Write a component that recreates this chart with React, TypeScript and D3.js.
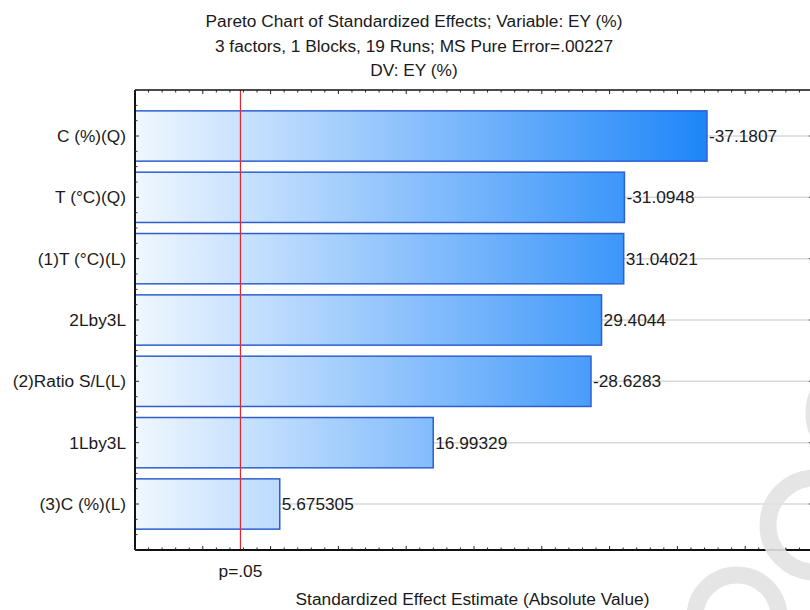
import React from "react";
import * as d3 from "d3";

// Pareto chart of standardized effects
const factors = [
  "C (%)(Q)",
  "T (°C)(Q)",
  "(1)T (°C)(L)",
  "2Lby3L",
  "(2)Ratio S/L(L)",
  "1Lby3L",
  "(3)C (%)(L)",
];
const effects = [-37.1807, -31.0948, 31.04021, 29.4044, -28.6283, 16.99329, 5.675305];
const effectLabels = ["-37.1807", "-31.0948", "31.04021", "29.4044", "-28.6283", "16.99329", "5.675305"];
const titleLines = [
  "Pareto Chart of Standardized Effects; Variable: EY (%)",
  "3 factors, 1 Blocks, 19 Runs; MS Pure Error=.00227",
  "DV: EY (%)",
];
const pCritical = 2.776;
const pLabel = "p=.05";
const xAxisTitle = "Standardized Effect Estimate (Absolute Value)";
const xDomain = [-5, 45];

const W = 810;
const H = 610;
const left = 135;
const right = 813;
const top = 90;
const bottom = 550;
const font = "'Liberation Sans', Arial, sans-serif";
const fs = 17.3;

export default function App() {
  const x = d3.scaleLinear().domain(xDomain).range([left, right]);
  const y = d3
    .scaleBand<string>()
    .domain(factors)
    .range([top, bottom])
    .paddingInner(0.18)
    .paddingOuter(0.34);
  const step = y.step();
  const maxAbs = d3.max(effects, (d) => Math.abs(d)) as number;

  const xMinor = d3.range(xDomain[0], xDomain[1] + 0.001, 1);
  const yTicks = d3.range(0, 31).map((k) => ({ pos: top + (k * step) / 4, major: k % 4 === 3 }));

  return (
    <svg
      width={W}
      height={H}
      style={{ position: "absolute", left: 0, top: 0, background: "#fff" }}
      fontFamily={font}
    >
      <defs>
        <linearGradient
          id="barFill"
          gradientUnits="userSpaceOnUse"
          x1={x(xDomain[0])}
          x2={x(maxAbs)}
          y1={0}
          y2={0}
        >
          <stop offset="0" stopColor="#f0f7ff" />
          <stop offset="1" stopColor="#1e86f9" />
        </linearGradient>
      </defs>
      <rect x={0} y={0} width={W} height={H} fill="#fff" />

      {titleLines.map((t, i) => (
        <text key={i} x={414} y={27 + i * 24.7} textAnchor="middle" fontSize={fs} fill="#1a1a1a">
          {t}
        </text>
      ))}

      {/* grid lines through each bar centre */}
      {factors.map((f) => (
        <line
          key={"g" + f}
          x1={left}
          x2={right}
          y1={(y(f) as number) + y.bandwidth() / 2}
          y2={(y(f) as number) + y.bandwidth() / 2}
          stroke="#d9d9d9"
          strokeWidth={1.5}
        />
      ))}

      {/* bars of absolute effect */}
      {factors.map((f, i) => (
        <rect
          key={"b" + f}
          x={left}
          y={y(f) as number}
          width={x(Math.abs(effects[i])) - left}
          height={y.bandwidth()}
          fill="url(#barFill)"
          stroke="#2e5fcf"
          strokeWidth={1.5}
        />
      ))}

      {/* effect values */}
      {factors.map((f, i) => (
        <text
          key={"v" + f}
          x={x(Math.abs(effects[i])) + 2}
          y={(y(f) as number) + y.bandwidth() / 2}
          dy="0.35em"
          fontSize={fs}
          fill="#1a1a1a"
        >
          {effectLabels[i]}
        </text>
      ))}

      {/* significance threshold */}
      <line x1={x(pCritical)} x2={x(pCritical)} y1={top} y2={bottom} stroke="#e3262f" strokeWidth={1.2} />

      {/* frame */}
      <line x1={left} x2={right} y1={bottom} y2={bottom} stroke="#111" strokeWidth={1.8} />
      <line x1={left} x2={right} y1={top} y2={top} stroke="#111" strokeWidth={1.5} />
      <line x1={left} x2={left} y1={top} y2={bottom} stroke="#111" strokeWidth={2} />
      <line x1={right} x2={right} y1={top} y2={bottom} stroke="#111" strokeWidth={1.5} />

      {/* x ticks (inward, top and bottom) */}
      {xMinor.map((v) => {
        const major = v % 5 === 0;
        const len = major ? 4 : 2.5;
        return (
          <g key={"xt" + v}>
            <line x1={x(v)} x2={x(v)} y1={bottom} y2={bottom - len} stroke="#222" strokeWidth={1} />
            <line x1={x(v)} x2={x(v)} y1={top} y2={top + len} stroke="#222" strokeWidth={1} />
          </g>
        );
      })}

      {/* y ticks (inward, left and right) */}
      {yTicks.map((t, i) => {
        const len = t.major ? 4 : 2.5;
        return (
          <g key={"yt" + i}>
            <line x1={left} x2={left + len} y1={t.pos} y2={t.pos} stroke="#333" strokeWidth={1} />
            <line x1={right} x2={right - len} y1={t.pos} y2={t.pos} stroke="#333" strokeWidth={1} />
          </g>
        );
      })}

      {/* factor labels */}
      {factors.map((f) => (
        <text
          key={"l" + f}
          x={126}
          y={(y(f) as number) + y.bandwidth() / 2}
          dy="0.35em"
          textAnchor="end"
          fontSize={fs}
          fill="#1a1a1a"
        >
          {f}
        </text>
      ))}

      <text x={x(pCritical)} y={577} textAnchor="middle" fontSize={fs} fill="#1a1a1a">
        {pLabel}
      </text>
      <text x={(left + W) / 2} y={605} textAnchor="middle" fontSize={fs} fill="#1a1a1a">
        {xAxisTitle}
      </text>

      {/* light rings in the lower right corner */}
      <g fill="none" stroke="#e2e2e2" strokeOpacity={0.9} strokeWidth={17}>
        <circle cx={862} cy={413} r={48} />
        <circle cx={815} cy={525} r={47} />
        <circle cx={737} cy={617} r={42} />
      </g>
    </svg>
  );
}
